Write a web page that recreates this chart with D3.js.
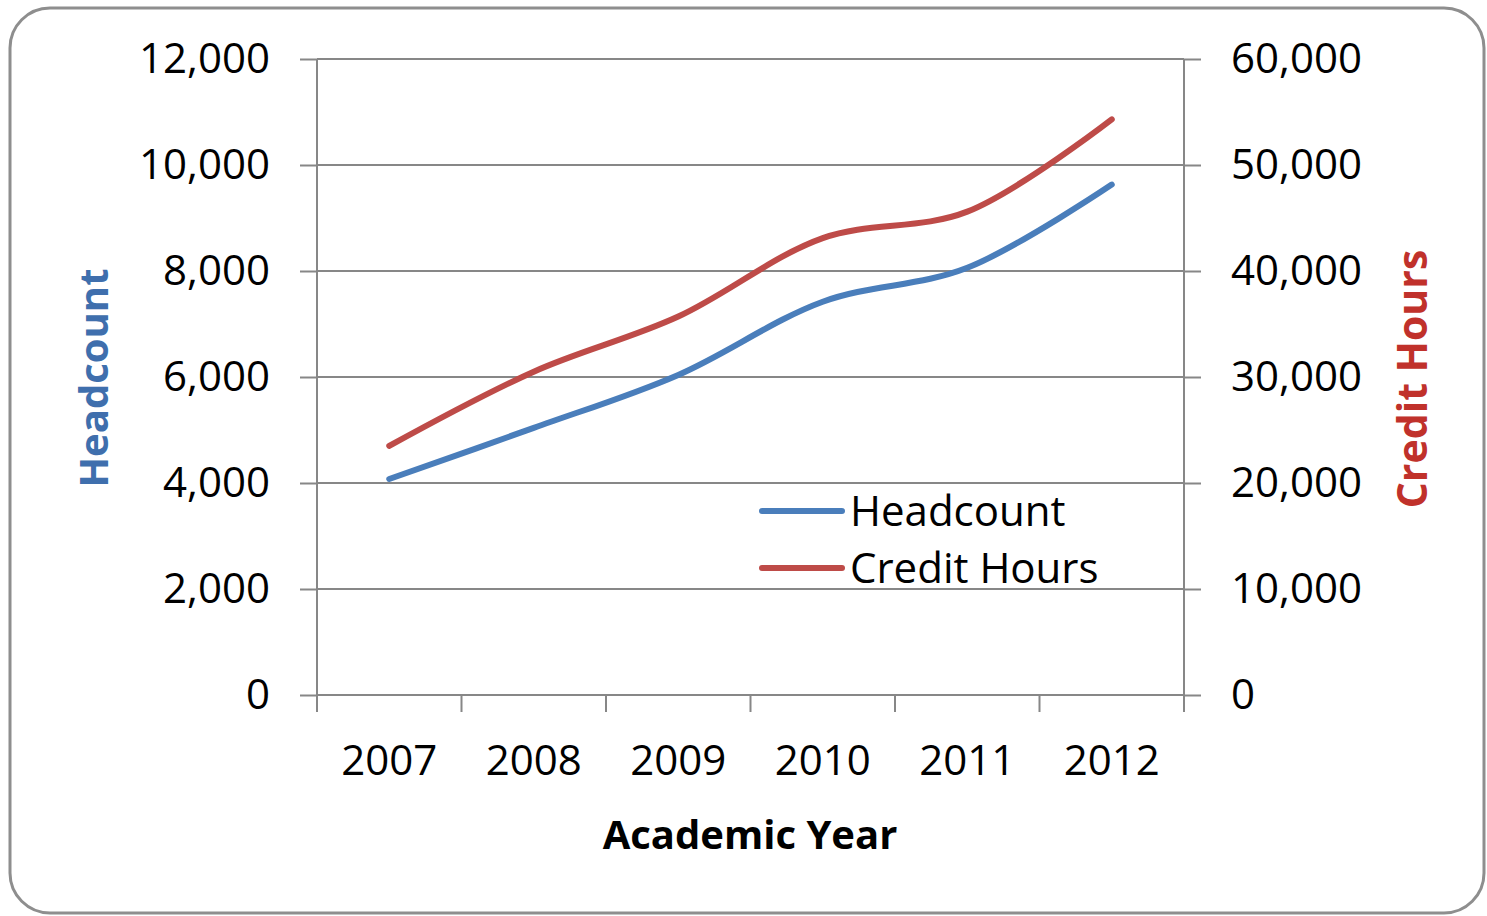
<!DOCTYPE html>
<html>
<head>
<meta charset="utf-8">
<script src="https://cdn.jsdelivr.net/npm/d3@7"></script>
<style>
  body { margin: 0; background: #fff; }
  svg { display: block; }
  text { font-family: "Open Sans", "Noto Sans", sans-serif; }
</style>
</head>
<body>
<script>
// chart data
var years = ["2007", "2008", "2009", "2010", "2011", "2012"];
var headcount = [4075, 5040, 6040, 7420, 8060, 9630];
var creditHours = [23500, 30500, 35700, 43100, 45600, 54300];
var leftTicks = [0, 2000, 4000, 6000, 8000, 10000, 12000];
var rightTicks = [0, 10000, 20000, 30000, 40000, 50000, 60000];
var seriesNames = ["Headcount", "Credit Hours"];

var W = 1487, H = 916;
var plotL = 317, plotR = 1184, plotT = 59, plotB = 695;
var blue = "#4a7ebb", red = "#be4b48", gridCol = "#878787";

var svg = d3.select("body").append("svg")
  .attr("width", W)
  .attr("height", H);

// outer frame
svg.append("rect")
  .attr("x", 10).attr("y", 8)
  .attr("width", 1474).attr("height", 905)
  .attr("rx", 40).attr("ry", 40)
  .style("fill", "#fff")
  .style("stroke", "#8e8e8e")
  .style("stroke-width", 3);

var x = d3.scaleBand().domain(years).range([plotL, plotR]);
var yL = d3.scaleLinear().domain([0, 12000]).range([plotB, plotT]);
var yR = d3.scaleLinear().domain([0, 60000]).range([plotB, plotT]);

// gridlines
svg.append("g").selectAll("line")
  .data(leftTicks)
  .enter()
  .append("line")
  .attr("x1", plotL).attr("x2", plotR)
  .attr("y1", function(d) { return yL(d); })
  .attr("y2", function(d) { return yL(d); })
  .style("stroke", gridCol)
  .style("stroke-width", 2);

var fmt = d3.format(",");

var axL = svg.append("g")
  .attr("transform", "translate(" + plotL + ",0)")
  .call(d3.axisLeft(yL).tickValues(leftTicks).tickFormat(fmt).tickSize(17).tickPadding(30));

var axR = svg.append("g")
  .attr("transform", "translate(" + plotR + ",0)")
  .call(d3.axisRight(yR).tickValues(rightTicks).tickFormat(fmt).tickSize(17).tickPadding(30));

var axB = svg.append("g")
  .attr("transform", "translate(0," + plotB + ")")
  .call(d3.axisBottom(x).tickSize(0).tickPadding(50));

[axL, axR, axB].forEach(function(ax) {
  ax.select(".domain").style("stroke", gridCol).style("stroke-width", 2);
  ax.selectAll(".tick line").style("stroke", gridCol).style("stroke-width", 2);
  ax.selectAll("text")
    .style("font-family", "'Open Sans', sans-serif")
    .style("font-size", "42px")
    .style("fill", "#000");
});
axL.select(".domain").attr("d", "M0," + plotT + "V" + (plotB + 17));
axR.select(".domain").attr("d", "M0," + plotT + "V" + (plotB + 17));
axB.select(".domain").attr("d", "M" + plotL + ",0H" + plotR);

// category boundary ticks
var bounds = years.map(function(d) { return x(d); }).concat([plotR]);
svg.append("g").selectAll("line")
  .data(bounds)
  .enter()
  .append("line")
  .attr("x1", function(d) { return d; })
  .attr("x2", function(d) { return d; })
  .attr("y1", plotB).attr("y2", plotB + 17)
  .style("stroke", gridCol)
  .style("stroke-width", 2);

var cx = function(d, i) { return x(years[i]) + x.bandwidth() / 2; };

var lineL = d3.line()
  .x(cx)
  .y(function(d) { return yL(d); })
  .curve(d3.curveCatmullRom.alpha(0.5));

var lineR = d3.line()
  .x(cx)
  .y(function(d) { return yR(d); })
  .curve(d3.curveCatmullRom.alpha(0.5));

svg.append("path")
  .datum(headcount)
  .attr("d", lineL)
  .style("fill", "none")
  .style("stroke", blue)
  .style("stroke-width", 6)
  .style("stroke-linecap", "round");

svg.append("path")
  .datum(creditHours)
  .attr("d", lineR)
  .style("fill", "none")
  .style("stroke", red)
  .style("stroke-width", 6)
  .style("stroke-linecap", "round");

// axis titles
svg.append("text")
  .attr("transform", "translate(108,378) rotate(-90)")
  .attr("text-anchor", "middle")
  .style("font-size", "40px")
  .style("font-weight", "bold")
  .style("fill", "#3f6fad")
  .text("Headcount");

svg.append("text")
  .attr("transform", "translate(1427,379) rotate(-90)")
  .attr("text-anchor", "middle")
  .style("font-size", "41px")
  .style("font-weight", "bold")
  .style("fill", "#c0312b")
  .text("Credit Hours");

svg.append("text")
  .attr("x", 750).attr("y", 849)
  .attr("text-anchor", "middle")
  .style("font-size", "40px")
  .style("font-weight", "bold")
  .style("fill", "#000")
  .text("Academic Year");

// legend
var legCols = [blue, red];
var leg = svg.append("g").selectAll("g")
  .data(seriesNames)
  .enter()
  .append("g")
  .attr("transform", function(d, i) { return "translate(762," + (511 + i * 57) + ")"; });

leg.append("line")
  .attr("x1", 0).attr("x2", 80)
  .attr("y1", 0).attr("y2", 0)
  .style("stroke", function(d, i) { return legCols[i]; })
  .style("stroke-width", 6)
  .style("stroke-linecap", "round");

leg.append("text")
  .attr("x", 88).attr("y", 0)
  .attr("dy", "0.35em")
  .style("font-size", "42px")
  .style("fill", "#000")
  .text(function(d) { return d; });
</script>
</body>
</html>
